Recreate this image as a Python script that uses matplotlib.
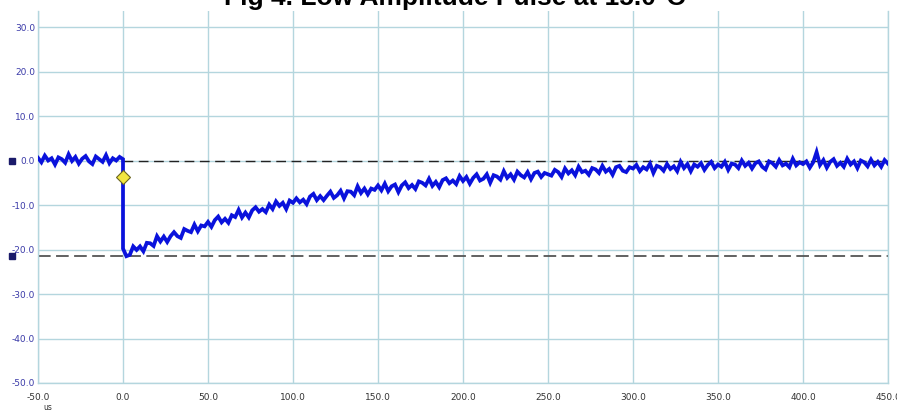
import numpy as np
import matplotlib
matplotlib.use("Agg")
import matplotlib.pyplot as plt
from matplotlib.transforms import blended_transform_factory

# ---- data ----
title = "Fig 4. Low Amplitude Pulse at 15.0°C"
x_ticks = [-50, 0, 50, 100, 150, 200, 250, 300, 350, 400, 450]
y_ticks = [-50, -40, -30, -20, -10, 0, 10, 20, 30]
x_unit = "us"

# pre-trigger samples, t = -50 .. 0 step 2 us
pre_values = [0.6, -0.4, 1.1, 0.0, 0.5, -0.9, 0.7, 0.3, -0.5, 1.4, -0.1, 0.8, -0.7,
              0.4, 1.0, -0.2, -0.8, 0.9, 0.3, -0.3, 1.2, -0.6, 0.5, 0.0, 0.8, 0.3]
edge_value = -19.8   # bottom of the vertical edge at t = 0
# post-trigger samples, t = 2 .. 450 step 2 us
post_values = [
    -21.5, -21.2, -19.3, -20.1, -19.3, -20.4, -18.5, -18.6, -19.2, -17.0, -18.2, -17.1, -18.3,
    -17.0, -16.1, -17.0, -17.4, -15.4, -15.8, -16.1, -14.4, -15.9, -14.6, -14.8, -13.8,
    -14.9, -13.4, -12.6, -13.9, -13.1, -14.0, -12.3, -12.7, -11.1, -12.8, -11.7, -12.8, -11.2,
    -10.5, -11.5, -10.9, -11.6, -9.9, -10.9, -9.2, -10.2, -9.5, -10.9, -9.0, -9.5,
    -8.5, -9.4, -8.8, -9.8, -8.1, -7.5, -8.9, -8.0, -8.9, -7.9, -7.0, -8.4, -7.8,
    -6.8, -8.5, -6.9, -7.0, -7.8, -5.8, -7.3, -6.3, -7.6, -6.3, -6.6, -5.6,
    -6.7, -5.2, -6.9, -5.8, -5.4, -7.1, -5.6, -4.9, -6.2, -5.5, -6.4, -4.7, -5.0,
    -5.6, -4.1, -5.7, -4.8, -6.0, -4.4, -4.0, -5.1, -4.5, -5.3, -3.5, -4.6,
    -3.7, -5.2, -3.9, -3.1, -4.5, -4.1, -3.1, -5.0, -3.3, -3.6, -4.3, -2.4, -3.9,
    -3.1, -4.3, -2.5, -3.3, -3.8, -2.6, -4.2, -2.8, -2.5, -3.7, -2.8, -3.1,
    -3.4, -2.1, -2.6, -3.7, -1.8, -2.9, -2.2, -3.3, -1.4, -2.6, -2.3, -3.2, -1.7,
    -2.0, -2.8, -1.2, -2.5, -1.9, -3.2, -1.5, -1.2, -2.3, -2.6, -1.5, -1.8,
    -1.0, -2.4, -1.5, -2.0, -0.7, -2.8, -1.2, -1.5, -2.3, -0.8, -1.9, -1.3, -2.4,
    -0.3, -1.7, -0.8, -2.4, -0.9, -1.4, -0.6, -2.1, -1.0, -0.3, -1.7, -0.9,
    -1.4, -0.3, -2.1, -0.7, -0.9, -1.7, 0.0, -1.2, -0.5, -1.8, -0.6, -0.2, -1.4,
    -2.0, -0.2, -0.6, -1.4, 0.1, -1.1, -0.7, -1.5, 0.4, -1.1, -0.4, -0.8,
    -0.2, -1.6, -0.4, 1.9, -1.0, 0.1, -1.6, -0.3, 0.3, -1.2, -0.5, -1.4, 0.4,
    -0.9, -0.2, -1.7, 0.0, -0.4, -1.3, 0.2, -1.1, -0.3, -1.4, 0.1, -0.7,
]
baseline_level = 0.0
peak_level = -21.5
trigger_time = 0.0
trigger_value = -3.6

# ---- build series ----
t_pre = np.arange(len(pre_values)) * 2.0 - 50.0
t_post = np.arange(1, len(post_values) + 1) * 2.0
t = np.concatenate([t_pre, [trigger_time], t_post])
v = np.concatenate([pre_values, [edge_value], post_values])

fig = plt.figure(figsize=(8.97, 4.12), dpi=100)
ax = fig.add_axes([38 / 897, 29 / 412, 850 / 897, 372 / 412])
ax.set_xlim(-50, 450)
ax.set_ylim(-50, 33.6)

grid_c = "#b4d6de"
ax.set_xticks(x_ticks)
ax.set_yticks(y_ticks)
ax.grid(True, color=grid_c, linewidth=1.0)
ax.set_axisbelow(True)
ax.spines["top"].set_visible(False)
for s in ["left", "bottom", "right"]:
    ax.spines[s].set_color(grid_c)
    ax.spines[s].set_linewidth(1.0)
ax.tick_params(length=0)
ax.set_xticklabels([f"{x:.1f}" for x in x_ticks], fontsize=6.5, color="#333333",
                   family="DejaVu Sans")
ax.set_yticklabels([f"{y:.1f}" for y in y_ticks], fontsize=6.5, color="#3a3aa8",
                   family="DejaVu Sans")
ax.tick_params(axis="x", pad=7)
ax.tick_params(axis="y", pad=2)

# reference dashed lines
ax.plot([trigger_time, 450], [baseline_level, baseline_level], color="#222222",
        linewidth=1.0, dashes=(7, 4), zorder=2)
ax.plot([-50, 450], [peak_level, peak_level], color="#555555",
        linewidth=1.3, dashes=(7, 3), zorder=2)

# trace
ax.plot(t, v, color="#0a12dc", linewidth=2.7, zorder=3, solid_joinstyle="miter")

# trigger marker
ax.plot([trigger_time], [trigger_value], marker="D", markersize=7,
        markerfacecolor="#f2e640", markeredgecolor="#6a6420", markeredgewidth=0.8,
        linestyle="none", zorder=4)

# level markers left of axis
trans = blended_transform_factory(ax.transAxes, ax.transData)
ax.plot([-0.031, -0.031], [baseline_level, peak_level], marker="s", markersize=4,
        color="#1a1a6a", linestyle="none", transform=trans, clip_on=False)

fig.text(43 / 897, 1 - 407 / 412, x_unit, fontsize=5.5, color="#333333",
         ha="left", va="center")
fig.text(455 / 897, 1 - 5 / 412, title, fontsize=19, fontweight="bold",
         family="Liberation Sans", ha="center", va="baseline")

fig.savefig("out.png", dpi=100)
